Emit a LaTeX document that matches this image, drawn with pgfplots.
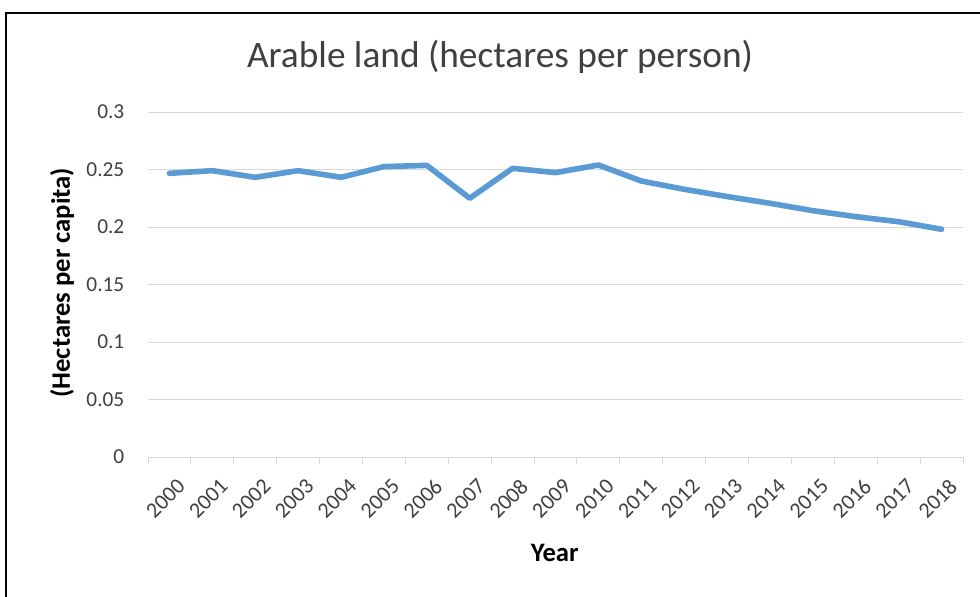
\documentclass[border=0pt]{standalone}
\usepackage{pgfplots}
\pgfplotsset{compat=1.18}
\usepackage{fontspec}
\setmainfont{Carlito}
\definecolor{linec}{HTML}{5B9BD5}
\definecolor{gridc}{HTML}{D9D9D9}
\definecolor{txtc}{HTML}{404040}
\pgfplotstableread{
x y
0 0.2467
1 0.2490
2 0.2432
3 0.2490
4 0.2432
5 0.2525
6 0.2536
7 0.2250
8 0.2510
9 0.2473
10 0.2539
11 0.2400
12 0.2328
13 0.2265
14 0.2206
15 0.2142
16 0.2090
17 0.2046
18 0.1980
}\datatable
\begin{document}
\begin{tikzpicture}
\useasboundingbox (0,0) rectangle (735pt,-447pt);
\draw[line width=1.5pt] (4.5pt,-450pt) -- (4.5pt,-10pt) -- (740pt,-10pt);
\begin{axis}[
  at={(111pt,-342.75pt)}, anchor=south west,
  scale only axis, width=611.25pt, height=258.75pt,
  xmin=-0.5, xmax=18.5, ymin=0, ymax=0.3,
  xtick={0,...,18},
  xticklabels={2000,2001,2002,2003,2004,2005,2006,2007,2008,2009,2010,2011,2012,2013,2014,2015,2016,2017,2018},
  minor xtick={-0.5,0.5,...,18.5},
  major x tick style={draw=none},
  minor x tick style={draw=gridc, line width=0.75pt},
  minor tick length=5pt,
  tick align=outside,
  ytick={0,0.05,...,0.31},
  major y tick style={draw=none},
  ymajorgrids, grid style={draw=gridc, line width=0.75pt},
  axis line style={draw=none},
  axis x line*=bottom, axis y line*=left,
  /pgf/number format/assume math mode=true,
  yticklabel style={/pgf/number format/fixed, /pgf/number format/precision=2, font=\fontsize{16}{19}\selectfont, text=txtc, xshift=-10pt},
  xticklabel style={rotate=45, anchor=east, font=\fontsize{16.5}{19}\selectfont, text=txtc, yshift=-17pt, xshift=-1pt},
  clip=false,
]
\draw[gridc, line width=0.75pt] (axis cs:-0.5,0) -- (axis cs:18.5,0);
\addplot[color=linec, line width=4.2pt, line join=round, line cap=round, mark=none] table[x=x,y=y] {\datatable};
\end{axis}
\node[text=txtc, font=\fontsize{28}{33}\selectfont] at (375pt,-43pt) {Arable land (hectares per person)};
\node[rotate=90, font=\bfseries\fontsize{20}{24}\selectfont] at (46.5pt,-212pt) {(Hectares per capita)};
\node[font=\bfseries\fontsize{20}{24}\selectfont] at (416pt,-415pt) {Year};
\end{tikzpicture}
\end{document}
